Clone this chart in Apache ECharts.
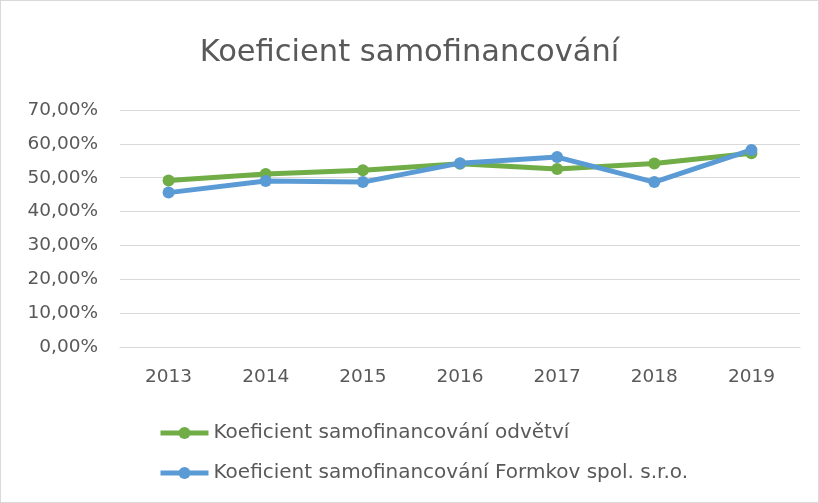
<!DOCTYPE html>
<html>
<head>
<meta charset="utf-8">
<script src="https://cdn.jsdelivr.net/npm/echarts@6/dist/echarts.min.js"></script>
<style>
    html, body { margin: 0; padding: 0; background: #fff; }
    #chart {
        width: 817px;
        height: 501px;
        border: 1px solid #d9d9d9;
    }
</style>
</head>
<body>
<div id="chart"></div>
<script>
var years = ['2013', '2014', '2015', '2016', '2017', '2018', '2019']
var odvetvi = [49.2, 51.1, 52.2, 54.1, 52.6, 54.2, 57.2]
var formkov = [45.6, 49.0, 48.7, 54.3, 56.1, 48.7, 58.2]
var seriesNames = ['Koeficient samofinancování odvětví', 'Koeficient samofinancování Formkov spol. s.r.o.']

var font = 'DejaVu Sans'
var textColor = '#595959'

var myChart = echarts.init(document.getElementById('chart'))
var option = {
    animation: false,
    title: {
        text: 'Koeficient samofinancování',
        left: 'center',
        top: 32,
        textStyle: { fontFamily: font, fontSize: 30.5, fontWeight: 'normal', color: textColor }
    },
    legend: {
        orient: 'vertical',
        left: 152,
        top: 417,
        itemWidth: 48,
        itemHeight: 15,
        itemGap: 20,
        lineStyle: { width: 5 },
        textStyle: { fontFamily: font, fontSize: 20, color: textColor },
        data: seriesNames
    },
    grid: {
        left: 119,
        right: 18,
        top: 109,
        bottom: 155
    },
    xAxis: {
        type: 'category',
        data: years,
        axisLine: { lineStyle: { color: '#d9d9d9' } },
        axisTick: { show: false },
        axisLabel: { fontFamily: font, fontSize: 18.5, color: textColor, margin: 21 }
    },
    yAxis: {
        type: 'value',
        min: 0,
        max: 70,
        interval: 10,
        axisLine: { show: false },
        axisTick: { show: false },
        splitLine: { lineStyle: { color: '#d9d9d9', width: 1 } },
        axisLabel: {
            fontFamily: font, fontSize: 18.5, color: textColor, margin: 22,
            formatter: function (v) { return v.toFixed(2).replace('.', ',') + '%' }
        }
    },
    series: [
        {
            name: seriesNames[0],
            type: 'line',
            data: odvetvi,
            symbol: 'circle',
            symbolSize: 12,
            itemStyle: { color: '#70AD47' },
            lineStyle: { width: 5, color: '#70AD47' }
        },
        {
            name: seriesNames[1],
            type: 'line',
            data: formkov,
            symbol: 'circle',
            symbolSize: 12,
            itemStyle: { color: '#5B9BD5' },
            lineStyle: { width: 5, color: '#5B9BD5' }
        }
    ]
}
myChart.setOption(option)
</script>
</body>
</html>
